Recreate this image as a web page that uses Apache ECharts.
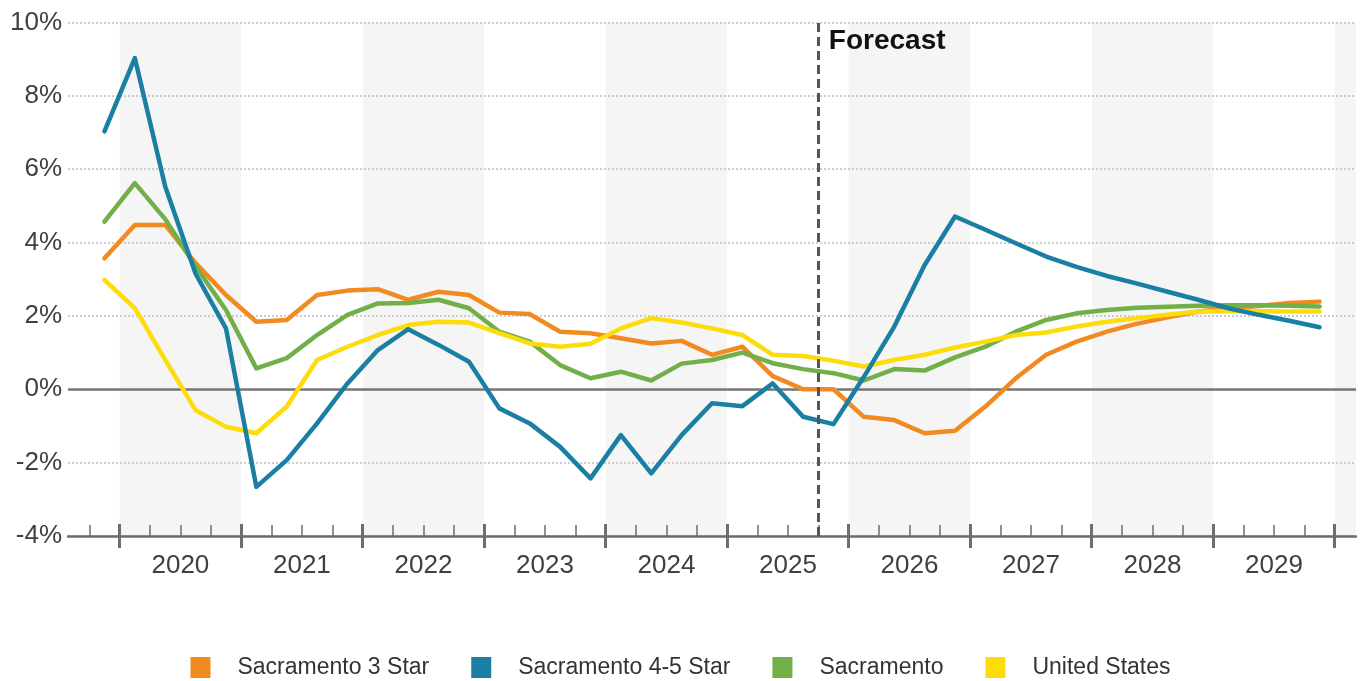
<!DOCTYPE html>
<html>
<head>
<meta charset="utf-8">
<script src="https://cdn.jsdelivr.net/npm/echarts@6/dist/echarts.min.js"></script>
<style>
html,body{margin:0;padding:0;background:#fff;}
#chart{width:1361px;height:681px;}
</style>
</head>
<body>
<div id="chart"></div>
<script>
// ---- data ----
const quarters = [
  '2019 Q4',
  '2020 Q1','2020 Q2','2020 Q3','2020 Q4',
  '2021 Q1','2021 Q2','2021 Q3','2021 Q4',
  '2022 Q1','2022 Q2','2022 Q3','2022 Q4',
  '2023 Q1','2023 Q2','2023 Q3','2023 Q4',
  '2024 Q1','2024 Q2','2024 Q3','2024 Q4',
  '2025 Q1','2025 Q2','2025 Q3','2025 Q4',
  '2026 Q1','2026 Q2','2026 Q3','2026 Q4',
  '2027 Q1','2027 Q2','2027 Q3','2027 Q4',
  '2028 Q1','2028 Q2','2028 Q3','2028 Q4',
  '2029 Q1','2029 Q2','2029 Q3','2029 Q4'
];
const years = ['2020','2021','2022','2023','2024','2025','2026','2027','2028','2029'];
const shadedYears = ['2020','2022','2024','2026','2028','2030'];
const forecastAfter = '2025 Q3';

const sac3Star = [3.57, 4.48, 4.48, 3.44, 2.57, 1.84, 1.89, 2.57, 2.69, 2.73, 2.44, 2.66, 2.57, 2.09, 2.05, 1.57, 1.53, 1.39, 1.25, 1.32, 0.94, 1.16, 0.36, 0.0, 0.0, -0.75, -0.84, -1.2, -1.13, -0.47, 0.3, 0.94, 1.30, 1.57, 1.79, 1.96, 2.12, 2.21, 2.27, 2.35, 2.39];
const sac45Star = [7.03, 9.03, 5.53, 3.15, 1.66, -2.66, -1.93, -0.93, 0.16, 1.07, 1.64, 1.21, 0.75, -0.52, -0.93, -1.57, -2.43, -1.25, -2.29, -1.25, -0.38, -0.46, 0.16, -0.75, -0.95, 0.34, 1.71, 3.39, 4.71, 4.35, 3.98, 3.62, 3.34, 3.09, 2.88, 2.66, 2.44, 2.21, 2.03, 1.87, 1.69];
const sacramento = [4.57, 5.62, 4.64, 3.35, 2.16, 0.57, 0.85, 1.48, 2.03, 2.34, 2.35, 2.44, 2.21, 1.57, 1.30, 0.66, 0.30, 0.48, 0.24, 0.70, 0.80, 1.0, 0.71, 0.55, 0.44, 0.24, 0.55, 0.51, 0.87, 1.16, 1.57, 1.89, 2.07, 2.16, 2.22, 2.25, 2.28, 2.29, 2.29, 2.28, 2.26];
const unitedStates = [2.98, 2.21, 0.8, -0.57, -1.02, -1.2, -0.47, 0.8, 1.16, 1.48, 1.75, 1.84, 1.82, 1.53, 1.25, 1.16, 1.24, 1.66, 1.94, 1.82, 1.66, 1.48, 0.94, 0.91, 0.78, 0.62, 0.80, 0.94, 1.14, 1.30, 1.48, 1.55, 1.71, 1.84, 1.94, 2.03, 2.12, 2.13, 2.13, 2.12, 2.12];

const seriesNames = ['Sacramento 3 Star', 'Sacramento 4-5 Star', 'Sacramento', 'United States'];
const seriesColors = ['#F28A22', '#1A7FA3', '#72AF49', '#FDDC0C'];

const yMin = -4, yMax = 10, yStep = 2;

// ---- derived positions (quarter index units) ----
const xMin = -1.2, xMax = 41.2;
const qIndex = q => quarters.indexOf(q);
const lastEdge = quarters.length - 0.5;
const yearStart = y => { const i = qIndex(y + ' Q1'); return i < 0 ? lastEdge : i - 0.5; };
const majorTicks = years.map(yearStart).concat([lastEdge]);
const allEdges = quarters.map((q, i) => i - 0.5).concat([lastEdge]);
const minorTicks = allEdges.filter(e => majorTicks.indexOf(e) < 0);
const labelPos = years.map(y => qIndex(y + ' Q2') + 0.5);
const bands = shadedYears.map(y => { const s = yearStart(y); return [s, Math.min(s + 4, xMax)]; });
const forecastX = qIndex(forecastAfter) + 0.5;
const yearFor = v => {
  let best = 0;
  labelPos.forEach((p, i) => { if (Math.abs(p - v) < Math.abs(labelPos[best] - v)) best = i; });
  return years[best];
};
const pts = arr => arr.map((v, i) => [i, v]);

const axisGray = '#6e6e6e';
const textGray = '#404040';
const baseFont = "'Liberation Sans', Arial, sans-serif";

function xAxisBase() {
  return {
    type: 'value', min: xMin, max: xMax, position: 'bottom',
    axisLine: { show: false, onZero: false }, axisLabel: { show: false }, splitLine: { show: false }
  };
}

const chart = echarts.init(document.getElementById('chart'));
const lineOrder = [0, 2, 3, 1];
const dataArrays = [sac3Star, sac45Star, sacramento, unitedStates];

const series = [
  {
    type: 'custom', name: 'bands', z: -1, silent: true,
    data: bands,
    encode: { x: [0, 1] },
    renderItem: (params, api) => {
      const p0 = api.coord([api.value(0), yMax]);
      const p1 = api.coord([api.value(1), yMin]);
      return { type: 'rect', shape: { x: p0[0], y: p0[1], width: p1[0] - p0[0], height: p1[1] - p0[1] },
               style: { fill: '#F5F5F5' } };
    }
  }
];
lineOrder.forEach((k, n) => {
  const s = {
    type: 'line', name: seriesNames[k], data: pts(dataArrays[k]),
    symbol: 'none', smooth: false, z: 2,
    lineStyle: { color: seriesColors[k], width: 4.5, join: 'round', cap: 'round' },
    itemStyle: { color: seriesColors[k] }
  };
  if (n === 0) {
    s.markLine = {
      silent: true, z: 1, symbol: ['none', 'none'], label: { show: false }, animation: false,
      lineStyle: { color: '#777', width: 2.5, type: 'solid' },
      data: [{ yAxis: 0 }]
    };
  }
  if (n === 3) {
    s.markLine = {
      silent: true, z: 5, symbol: ['none', 'none'], label: { show: false }, animation: false,
      lineStyle: { color: '#555', width: 3, type: [9, 5] },
      data: [{ xAxis: forecastX }]
    };
    s.markPoint = {
      silent: true, animation: false,
      data: [{
        coord: [forecastX, yMax], symbol: 'rect', symbolSize: 1,
        itemStyle: { color: 'rgba(0,0,0,0)' },
        label: { show: true, formatter: 'Forecast', position: [11, 5], align: 'left', verticalAlign: 'top',
                 fontSize: 28, fontWeight: 'bold', color: '#111', fontFamily: baseFont }
      }]
    };
  }
  series.push(s);
});

chart.setOption({
  animation: false,
  backgroundColor: '#fff',
  grid: { left: 68, right: 5, top: 22.5, bottom: 145, containLabel: false },
  legend: {
    data: seriesNames, left: 'center', top: 651,
    icon: 'rect', itemWidth: 20, itemHeight: 21, itemGap: 42,
    textStyle: { fontFamily: baseFont, fontSize: 23, color: '#333', padding: [0, 0, 0, 22] }
  },
  xAxis: [
    {
      type: 'value', min: xMin, max: xMax, position: 'bottom',
      axisLine: { show: true, onZero: false, lineStyle: { color: axisGray, width: 2.5 } },
      axisTick: { show: true, inside: true, length: 11, customValues: minorTicks, lineStyle: { color: axisGray, width: 1.5 } },
      axisLabel: { show: true, customValues: labelPos, formatter: v => yearFor(v), fontSize: 26, color: textGray, margin: 17, fontFamily: baseFont },
      splitLine: { show: false }
    },
    Object.assign(xAxisBase(), { axisTick: { show: true, inside: true, length: 12, customValues: majorTicks, lineStyle: { color: axisGray, width: 3 } } }),
    Object.assign(xAxisBase(), { axisTick: { show: true, inside: false, length: 12, customValues: majorTicks, lineStyle: { color: axisGray, width: 3 } } })
  ],
  yAxis: {
    type: 'value', min: yMin, max: yMax, interval: yStep,
    axisLine: { show: false }, axisTick: { show: false },
    axisLabel: { formatter: '{value}%', fontSize: 26, color: textGray, margin: 6, fontFamily: baseFont },
    splitLine: { show: true, lineStyle: { color: '#bdbdbd', width: 1.5, type: [2, 2] } }
  },
  series: series
});
</script>
</body>
</html>
